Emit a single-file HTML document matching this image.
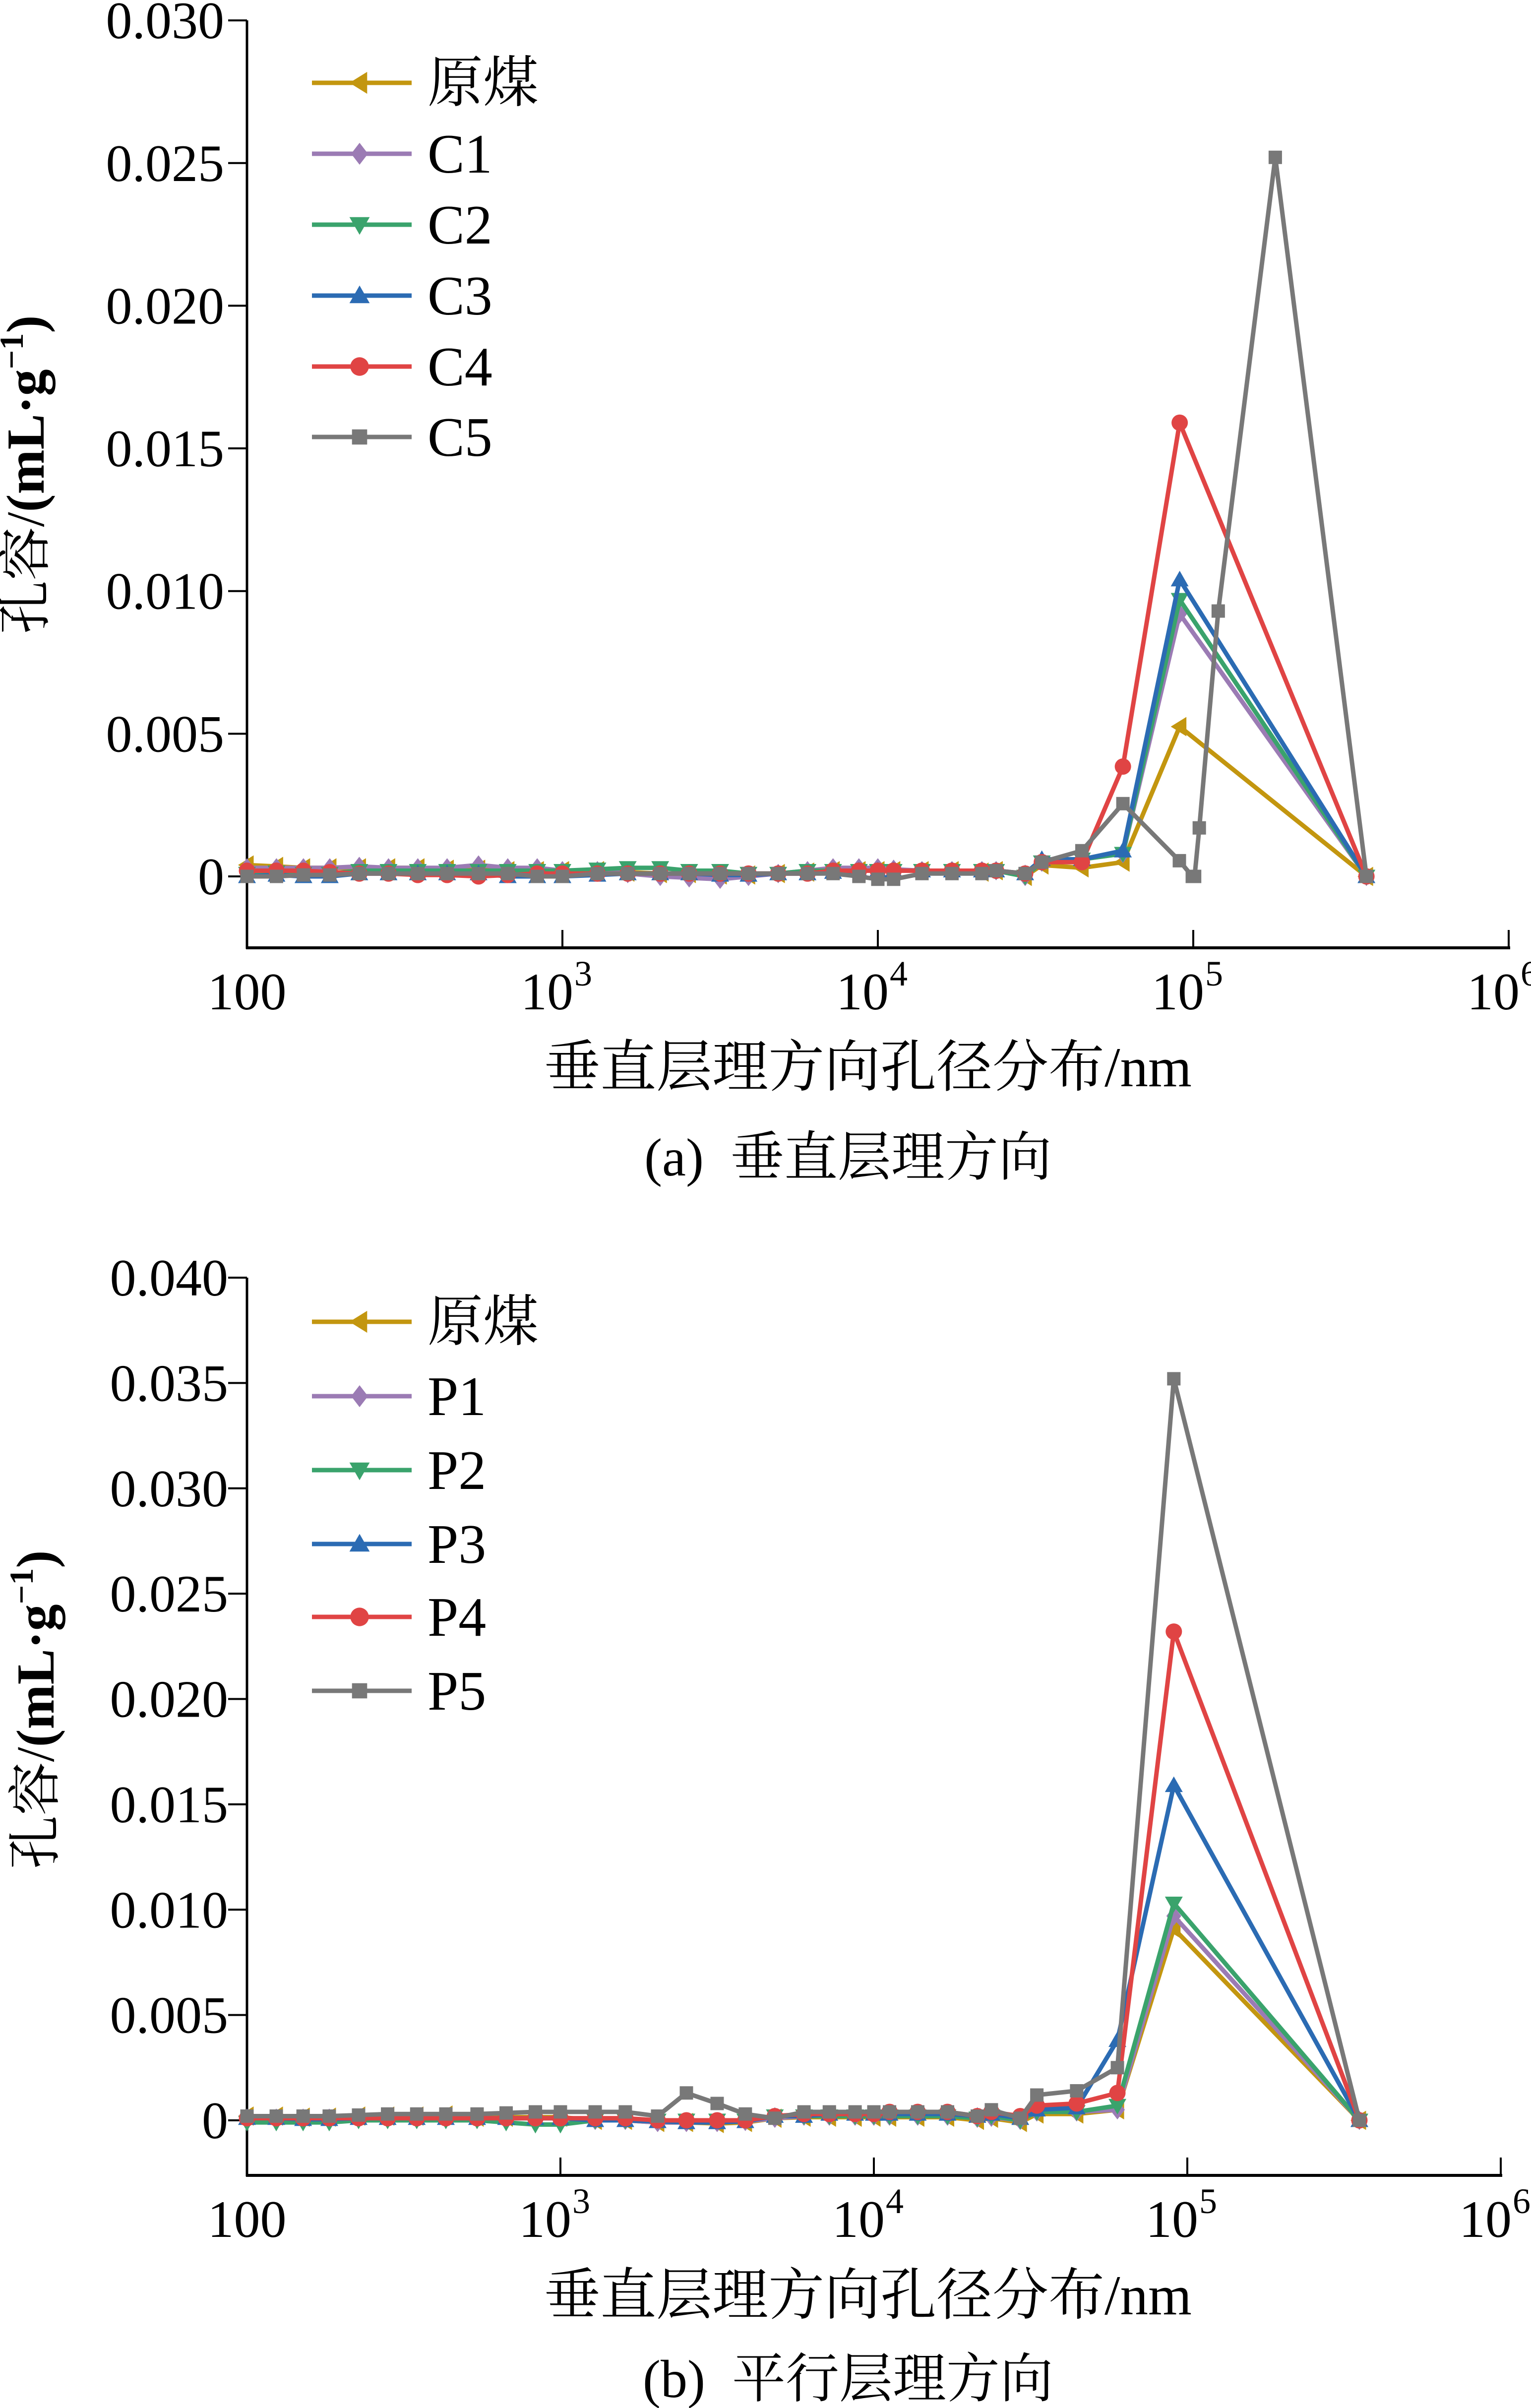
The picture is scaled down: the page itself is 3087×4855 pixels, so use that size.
<!DOCTYPE html>
<html><head><meta charset="utf-8"><style>
html,body{margin:0;padding:0;background:#fff;}
svg{display:block;}
svg text{font-family:"Liberation Serif","Times New Roman","Noto Serif CJK SC",serif;fill:#000;}
</style></head><body>
<svg id="root" width="3087" height="4855" viewBox="0 0 3087 4855" xmlns="http://www.w3.org/2000/svg" font-family="'Liberation Serif','Times New Roman','Noto Serif CJK SC',serif"></svg>
<script>
// ---------- data ----------
const diam = [100,124,151,183,227,281,348,431,542,671,832,1000,1291,1611,2042,2523,3162,3890,4831,5984,7211,8710,10000,11220,13800,17180,21380,23710,29310,33110,44360,59840,90570,354000];
const diamC5 = [100,124,151,183,227,281,348,431,542,671,832,1000,1291,1611,2042,2523,3162,3890,4831,5984,7211,8710,10000,11220,13800,17180,21380,23710,29310,33110,44360,59840,90360,99300,101000,104500,120000,182000,354000];
const namesA = ['原煤','C1','C2','C3','C4','C5'];
const namesB = ['原煤','P1','P2','P3','P4','P5'];
// top chart values (x 0.001 mL/g)
const a0 = [0.4,0.35,0.3,0.3,0.3,0.3,0.3,0.25,0.25,0.2,0.2,0.2,0.2,0.15,0.1,0.1,0.05,0.05,0.1,0.15,0.2,0.2,0.2,0.2,0.2,0.2,0.15,0.2,0.0,0.4,0.3,0.5,5.25,0];
const a1 = [0.3,0.3,0.3,0.3,0.35,0.3,0.3,0.3,0.4,0.3,0.3,0.2,0.2,0.1,0.0,-0.05,-0.1,0.0,0.1,0.2,0.3,0.3,0.3,0.25,0.2,0.2,0.2,0.2,0.0,0.5,0.6,0.8,9.2,0];
const a2 = [0.1,0.15,0.1,0.1,0.2,0.2,0.2,0.2,0.2,0.2,0.2,0.2,0.25,0.3,0.3,0.2,0.2,0.1,0.1,0.2,0.2,0.2,0.2,0.2,0.2,0.2,0.2,0.2,0.0,0.5,0.6,0.8,9.7,0];
const a3 = [0.0,0.05,0.0,0.0,0.1,0.1,0.1,0.1,0.1,0.0,0.0,0.0,0.05,0.1,0.1,0.1,0.05,0.05,0.1,0.1,0.15,0.2,0.2,0.2,0.2,0.2,0.2,0.2,0.1,0.6,0.6,0.9,10.4,0];
const a4 = [0.2,0.2,0.2,0.15,0.1,0.1,0.05,0.05,0.0,0.05,0.1,0.1,0.1,0.1,0.1,0.1,0.1,0.1,0.1,0.1,0.2,0.2,0.2,0.2,0.2,0.2,0.2,0.2,0.1,0.5,0.5,3.85,15.9,0];
const a5 = [0.0,0.0,0.05,0.05,0.1,0.1,0.1,0.1,0.1,0.1,0.0,0.0,0.1,0.1,0.1,0.1,0.1,0.1,0.1,0.1,0.1,0.0,-0.1,-0.1,0.1,0.1,0.1,0.2,0.1,0.5,0.9,2.55,0.55,0,0,1.7,9.3,25.2,0];
// bottom chart values (x 0.001 mL/g)
const b0 = [0.2,0.2,0.15,0.15,0.2,0.2,0.2,0.25,0.15,0.15,0.15,0.15,0.0,0.0,-0.1,-0.1,-0.15,-0.1,0.1,0.15,0.15,0.15,0.15,0.15,0.15,0.15,0.0,0.1,-0.1,0.3,0.3,0.5,9.1,0];
const b1 = [0.1,0.1,0.1,0.1,0.1,0.1,0.1,0.1,0.1,0.1,0.1,0.1,0.0,0.0,-0.1,-0.1,-0.1,-0.05,0.1,0.2,0.2,0.2,0.2,0.2,0.2,0.2,0.1,0.15,0.0,0.4,0.4,0.5,9.7,0];
const b2 = [-0.1,-0.1,-0.1,-0.1,0,0,0,0,0,-0.1,-0.2,-0.2,0,0,0,0,0,0,0.2,0.2,0.2,0.2,0.2,0.2,0.2,0.2,0.1,0.2,0,0.4,0.4,0.7,10.3,0];
const b3 = [0.1,0.1,0.05,0.05,0.1,0.1,0.1,0.1,0.1,0.1,0.1,0.1,0.0,0.0,-0.05,-0.1,-0.1,-0.05,0.2,0.2,0.3,0.3,0.3,0.3,0.3,0.3,0.2,0.3,0.1,0.5,0.6,3.8,15.9,0];
const b4 = [0.1,0.1,0.1,0.1,0.1,0.1,0.1,0.1,0.1,0.1,0.1,0.1,0.1,0.1,0.0,0.0,0.0,0.0,0.2,0.3,0.3,0.3,0.3,0.4,0.4,0.4,0.2,0.4,0.2,0.7,0.8,1.3,23.2,0];
const b5 = [0.2,0.2,0.2,0.2,0.25,0.3,0.3,0.3,0.3,0.35,0.4,0.4,0.4,0.4,0.2,1.3,0.8,0.3,0.1,0.4,0.4,0.4,0.4,0.4,0.4,0.4,0.2,0.5,0.1,1.2,1.4,2.5,35.2,0];
const yTicksA = [0,0.005,0.010,0.015,0.020,0.025,0.030];
const yTicksB = [0,0.005,0.010,0.015,0.020,0.025,0.030,0.035,0.040];
const xTickExp = [2,3,4,5,6];

const colors = ['#C3960F','#9B7BB4','#3AA36C','#2B6BB3','#E04444','#787878'];
const markers = ['ltri','diamond','dtri','utri','circle','square'];
const FF = "'Liberation Serif','Times New Roman','Noto Serif CJK SC',serif";

const NS='http://www.w3.org/2000/svg';
const root=document.getElementById('root');
function el(tag,attrs,parent){const e=document.createElementNS(NS,tag);for(const k in attrs)e.setAttribute(k,attrs[k]);if(tag==='text')e.setAttribute('font-family',FF);(parent||root).appendChild(e);return e;}

function marker(g,type,x,y,c,s){
  let m;
  if(type==='circle') m=el('circle',{cx:x,cy:y,r:s*0.55,fill:c},g);
  else if(type==='square') m=el('rect',{x:x-s*0.45,y:y-s*0.45,width:s*0.9,height:s*0.9,fill:c},g);
  else {
    let p;
    if(type==='diamond') p=[[x,y-s*0.65],[x+s*0.5,y],[x,y+s*0.65],[x-s*0.5,y]];
    else if(type==='ltri') p=[[x-s*0.6,y],[x+s*0.45,y-s*0.65],[x+s*0.45,y+s*0.65]];
    else if(type==='dtri') p=[[x-s*0.6,y-s*0.45],[x+s*0.6,y-s*0.45],[x,y+s*0.6]];
    else p=[[x-s*0.6,y+s*0.45],[x+s*0.6,y+s*0.45],[x,y-s*0.6]];
    m=el('polygon',{points:p.map(q=>q.join(',')).join(' '),fill:c},g);
  }
  return m;
}

function chart(cfg){
  const g=el('g',{});
  
  
  const xS=v=>cfg.x0+(Math.log10(v)-2)*cfg.dec;
  const yS=v=>cfg.y0-v*1000*cfg.ppu;
  const ax=el('line',{x1:cfg.x0,y1:cfg.yTop,x2:cfg.x0,y2:cfg.axY+2,stroke:'#000','stroke-width':5},g);
  
  
  const xx=el('line',{x1:cfg.x0-2,y1:cfg.axY,x2:cfg.x0+4*cfg.dec+3,y2:cfg.axY,stroke:'#000','stroke-width':6},g);
  
  
  cfg.yTicks.forEach(t=>{
    const y=yS(t);
    el('line',{x1:cfg.x0-38,y1:y,x2:cfg.x0,y2:y,stroke:'#000','stroke-width':4},g);
    const tx=el('text',{x:cfg.yLabX,y:y+36,'text-anchor':'end','font-size':106},g);
    tx.textContent=t===0?'0':t.toFixed(3);
    
    
  });
  xTickExp.forEach(e=>{
    const x=cfg.x0+(e-2)*cfg.dec;
    if(e>2) el('line',{x1:x,y1:cfg.axY-36,x2:x,y2:cfg.axY,stroke:'#000','stroke-width':4},g);
    const tx=el('text',{x:e===2?x:x-12,y:cfg.axY+124,'text-anchor':'middle','font-size':106},g);
    if(e===2) tx.textContent='100';
    else { tx.textContent='10'; const sp=el('tspan',{dx:2,dy:-48,'font-size':72},tx); sp.textContent=String(e); }
    
    
  });
  cfg.series.forEach((vals,i)=>{
    const xs=cfg.xsFor(i);
    const sg=el('g',{},g);
    
    
    const pts=vals.map((v,j)=>[xS(xs[j]),yS(v/1000)]);
    el('polyline',{points:pts.map(p=>p.map(n=>n.toFixed(1)).join(',')).join(' '),fill:'none',stroke:colors[i],'stroke-width':9,'stroke-linejoin':'round'},sg);
    pts.forEach(p=>{const m=marker(sg,markers[i],p[0],p[1],colors[i],30);
      
      });
  });
  cfg.names.forEach((n,i)=>{
    const y=cfg.legY[i];
    const lg=el('g',{},g);
    
    
    el('line',{x1:629,y1:y,x2:830,y2:y,stroke:colors[i],'stroke-width':9},lg);
    marker(lg,markers[i],725,y,colors[i],34);
    const t=el('text',{x:862,y:y+38,'font-size':112},lg);
    t.textContent=n;
  });
  const yt=el('text',{x:0,y:0,'font-size':108,'text-anchor':'middle',transform:`translate(${cfg.yTitleX},${cfg.yTitleY}) rotate(-90)`},g);
  
  
  const s1=el('tspan',{},yt); s1.textContent='孔容/';
  const s2=el('tspan',{'font-weight':'bold'},yt); s2.textContent='(mL·g';
  const s3=el('tspan',{'font-weight':'bold','font-size':68,dy:-42},yt); s3.textContent='−1';
  const s4=el('tspan',{'font-weight':'bold',dy:42},yt); s4.textContent=')';
  const xt=el('text',{x:1750,y:cfg.xTitleY,'text-anchor':'middle','font-size':113},g);
  xt.textContent='垂直层理方向孔径分布/nm';
  
  
  const cp=el('text',{x:1710,y:cfg.capY,'text-anchor':'middle','font-size':108},g);
  cp.textContent=cfg.caption;
  
  
}

chart({name:'chart-a-vertical',x0:498,dec:636,y0:1767,ppu:57.53,yTop:41,axY:1911,yLabX:452,
  yTicks:yTicksA,series:[a0,a1,a2,a3,a4,a5],names:namesA,xsFor:i=>i===5?diamC5:diam,
  legY:[167,310,453,596,739,881],yTitleX:88,yTitleY:957,xTitleY:2190,capY:2370,caption:'(a)\u00a0\u00a0垂直层理方向'});
chart({name:'chart-b-parallel',x0:498,dec:632,y0:4275,ppu:42.475,yTop:2576,axY:4386,yLabX:460,
  yTicks:yTicksB,series:[b0,b1,b2,b3,b4,b5],names:namesB,xsFor:i=>diam,
  legY:[2665,2815,2964,3113,3260,3409],yTitleX:108,yTitleY:3447,xTitleY:4666,capY:4833,caption:'(b)\u00a0\u00a0平行层理方向'});
</script>
</body></html>
